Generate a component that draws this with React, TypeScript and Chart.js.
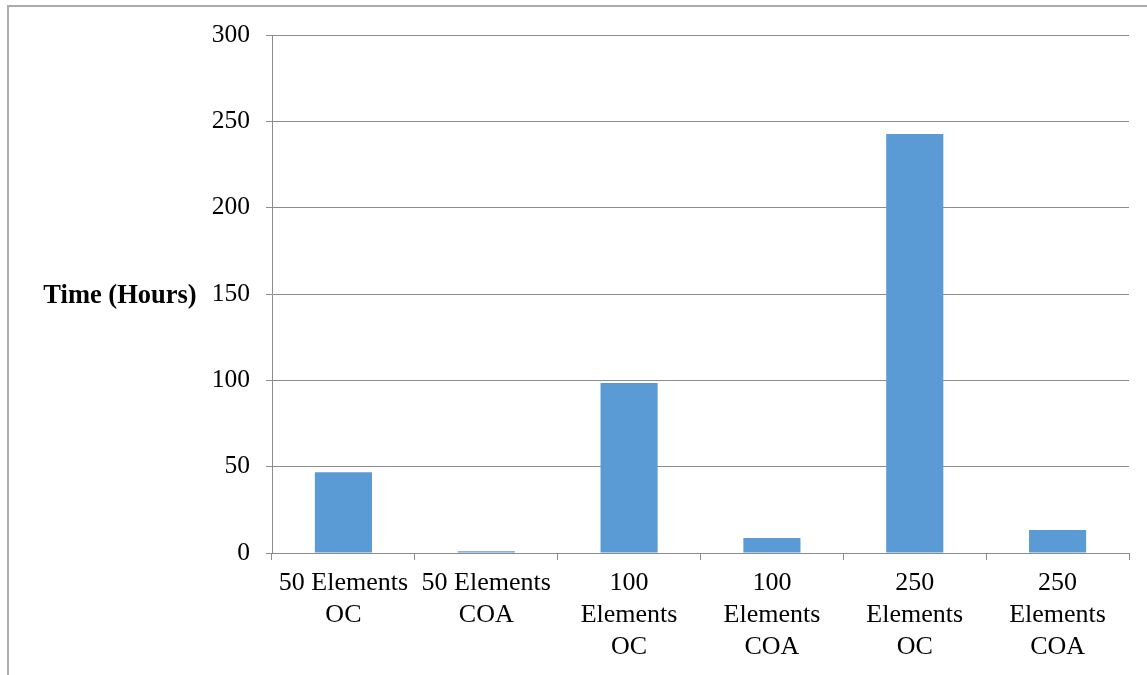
import React, { useEffect, useRef } from "react";
import { Chart, registerables } from "chart.js";

Chart.register(...registerables);

const categories: string[][] = [
  ["50 Elements", "OC"],
  ["50 Elements", "COA"],
  ["100", "Elements", "OC"],
  ["100", "Elements", "COA"],
  ["250", "Elements", "OC"],
  ["250", "Elements", "COA"],
];
const timeHours: number[] = [46.7, 1, 98.5, 8.7, 242.6, 13.3];
const yMin = 0;
const yMax = 300;
const yStep = 50;
const yAxisTitle = "Time (Hours)";

const FONT = "'Liberation Serif', 'Times New Roman', serif";
const GRID = "#8c8c8c";

const titlePlugin = {
  id: "horizontalYTitle",
  afterDraw(chart: any) {
    const { ctx, chartArea } = chart;
    ctx.save();
    ctx.font = `bold 26.5px ${FONT}`;
    ctx.fillStyle = "#000";
    ctx.textAlign = "center";
    ctx.textBaseline = "middle";
    ctx.fillText(yAxisTitle, 120, (chartArea.top + chartArea.bottom) / 2 + 2);
    ctx.restore();
  },
};

export default function App() {
  const ref = useRef<HTMLCanvasElement>(null);
  useEffect(() => {
    if (!ref.current) return;
    const chart = new Chart(ref.current, {
      type: "bar",
      data: {
        labels: categories,
        datasets: [
          {
            data: timeHours,
            backgroundColor: "#5B9BD5",
            borderWidth: 0,
            categoryPercentage: 1,
            barPercentage: 0.4,
          },
        ],
      },
      options: {
        responsive: false,
        animation: false,
        layout: { padding: { left: 0, top: 35, right: 18, bottom: 0 } },
        plugins: { legend: { display: false }, tooltip: { enabled: false }, title: { display: false } },
        scales: {
          x: {
            afterFit: (s: any) => {
              s.height = 122;
            },
            border: { color: GRID, width: 1 },
            grid: {
              offset: true,
              drawOnChartArea: false,
              drawTicks: true,
              tickLength: 7,
              color: GRID,
            },
            ticks: {
              color: "#000",
              font: { family: FONT, size: 26, lineHeight: 1.23 },
              maxRotation: 0,
              minRotation: 0,
              autoSkip: false,
              padding: 7,
            },
          },
          y: {
            min: yMin,
            max: yMax,
            afterFit: (s: any) => {
              s.width = 272;
            },
            border: { color: GRID, width: 1 },
            grid: { color: GRID, tickLength: 6, drawTicks: true },
            ticks: {
              stepSize: yStep,
              color: "#000",
              font: { family: FONT, size: 25.5 },
              padding: 16,
            },
          },
        },
      },
      plugins: [titlePlugin],
    });
    return () => chart.destroy();
  }, []);
  return (
    <div style={{ position: "fixed", left: 0, top: 0, width: 1147, height: 675, background: "#fff", overflow: "hidden" }}>
      <div
        style={{
          position: "absolute",
          left: 7,
          top: 5,
          width: 1300,
          height: 900,
          borderLeft: "2px solid #ababab",
          borderTop: "2px solid #ababab",
          boxSizing: "border-box",
        }}
      />
      <canvas ref={ref} width={1147} height={675} style={{ position: "absolute", left: 0, top: 0, display: "block" }} />
    </div>
  );
}
